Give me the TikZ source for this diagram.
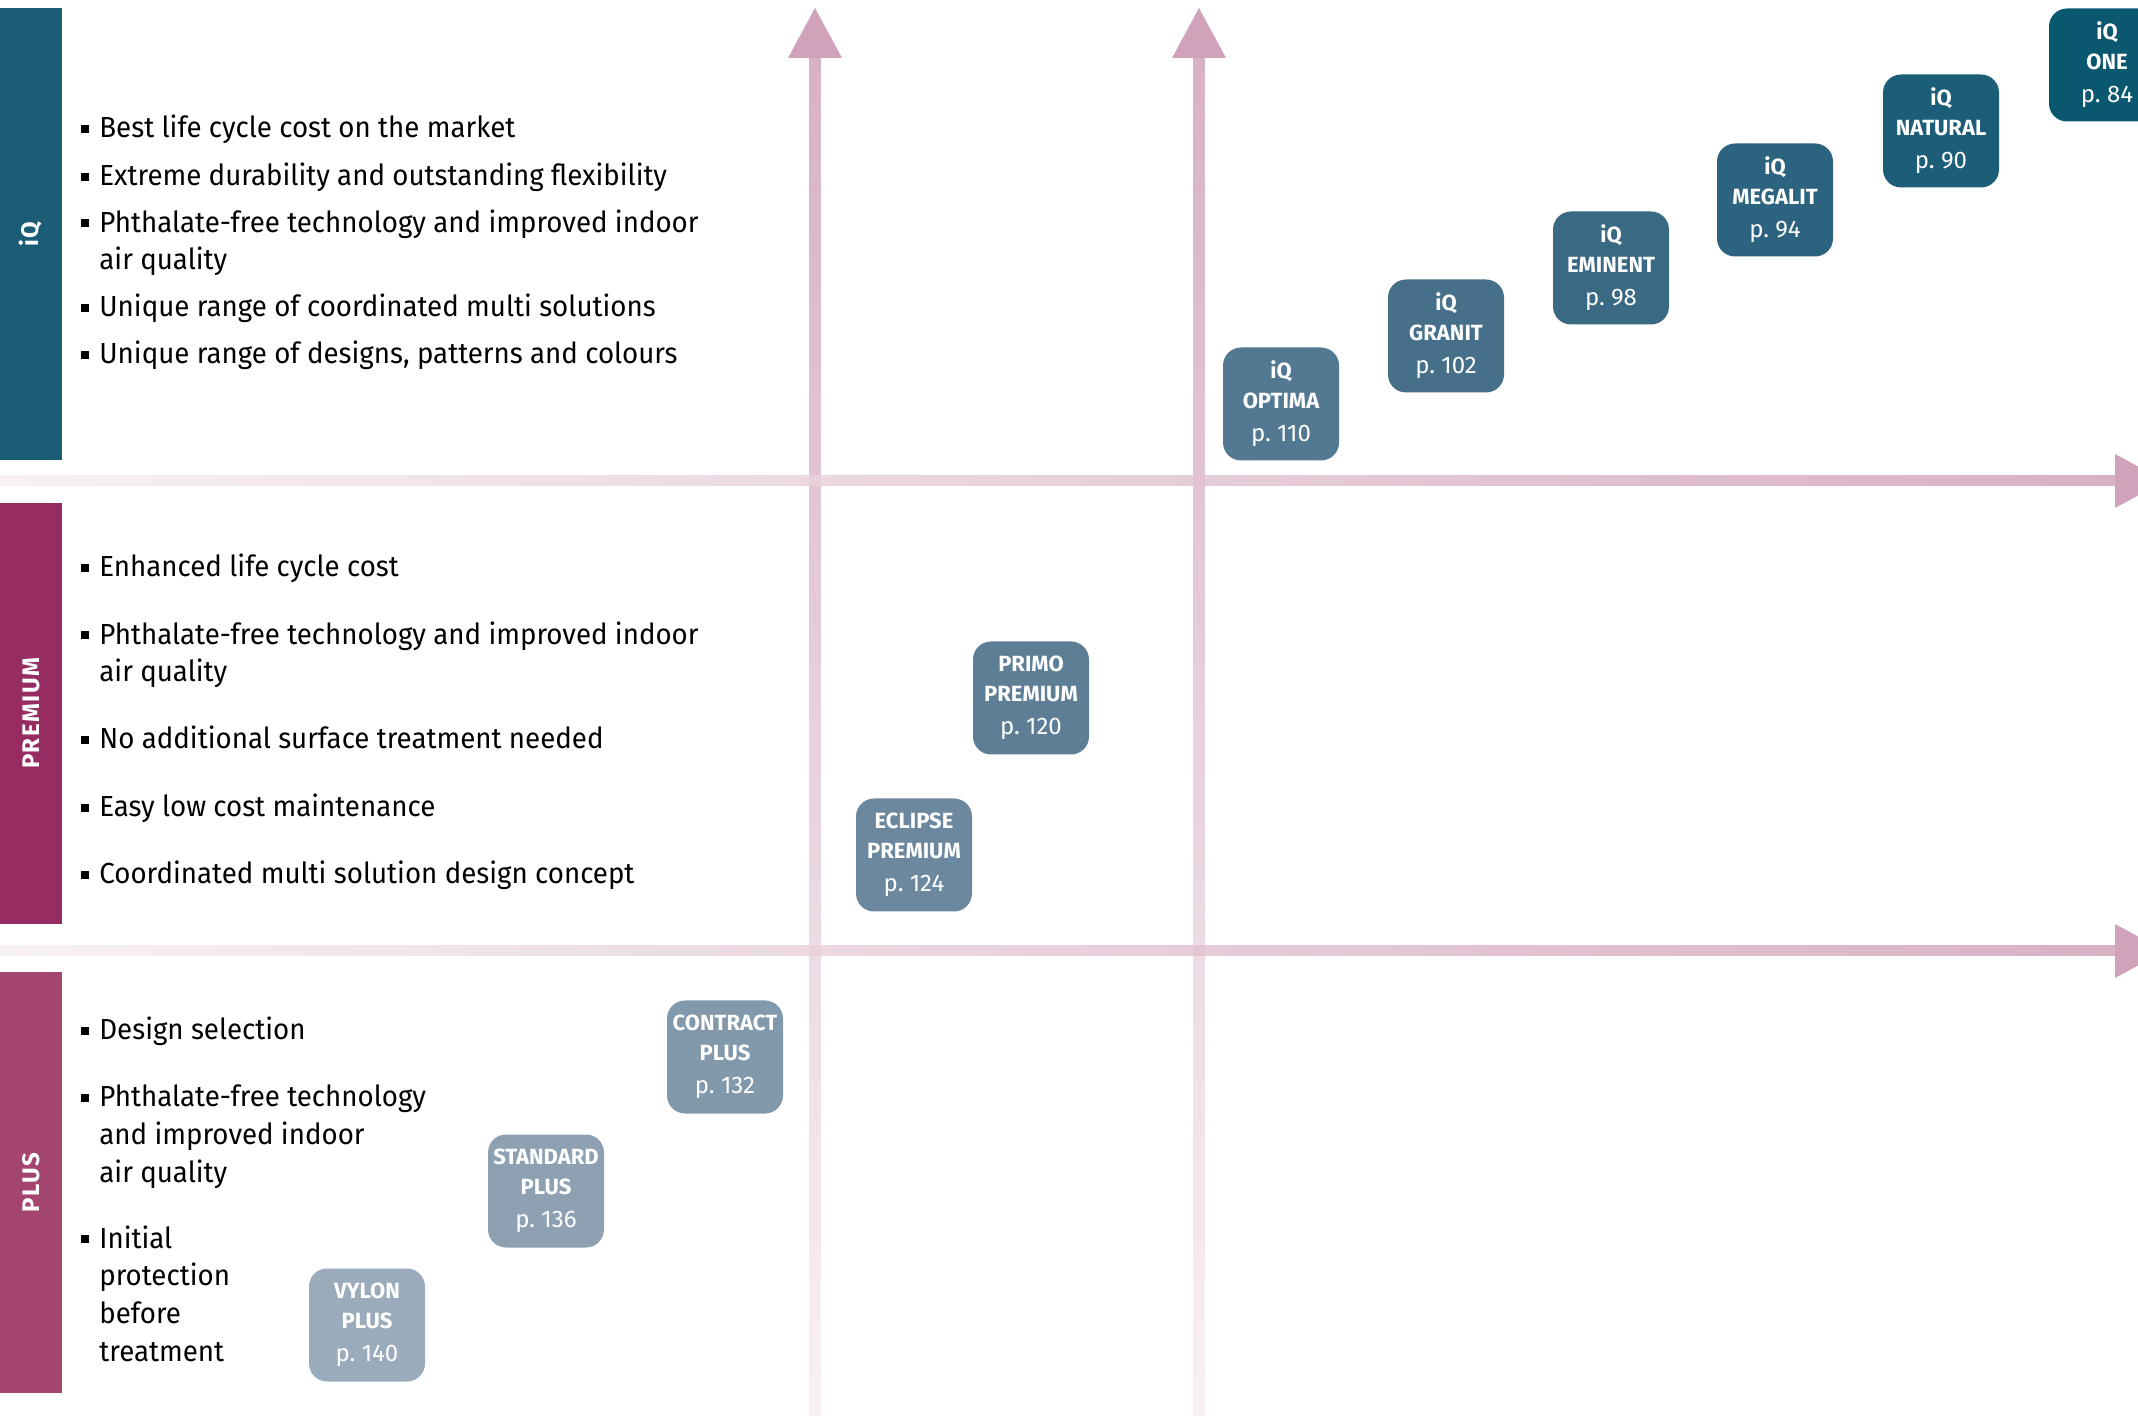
\documentclass[tikz,border=0pt]{standalone}
\usepackage{fontspec}
\setmainfont{Fira Sans}[FakeStretch=0.955]
\newfontfamily\boxfont{Fira Sans}
\newfontfamily\sidefont{Fira Sans}[LetterSpace=6]
\usetikzlibrary{positioning}

\definecolor{apink}{HTML}{D1A3BB}
\definecolor{apale}{HTML}{F7EEF2}
\definecolor{cIQ}{HTML}{1B5C77}
\definecolor{cPremium}{HTML}{962C62}
\definecolor{cPlus}{HTML}{A4456F}
\definecolor{cOne}{HTML}{0A5870}
\definecolor{cNatural}{HTML}{1C5E78}
\definecolor{cMegalit}{HTML}{2C6480}
\definecolor{cEminent}{HTML}{3A6983}
\definecolor{cGranit}{HTML}{466F89}
\definecolor{cOptima}{HTML}{537891}
\definecolor{cPrimo}{HTML}{5E7E95}
\definecolor{cEclipse}{HTML}{6B889E}
\definecolor{cContract}{HTML}{8298AB}
\definecolor{cStandard}{HTML}{8EA1B3}
\definecolor{cVylon}{HTML}{9AABBC}

\newcommand{\bul}{\llap{\rule[2.5pt]{4pt}{4pt}\hspace{5pt}}}
\newcommand{\pg}[1]{{\mdseries\fontsize{12}{15}\selectfont p.~#1}}

\begin{document}
\begin{tikzpicture}[
  x=0.5pt, y=-0.5pt,
  font=\fontsize{14.5}{18.8}\selectfont,
  bar/.style={minimum width=31pt, inner sep=0pt},
  sidelabel/.style={rotate=90, text=white, inner sep=0pt, font=\sidefont\bfseries\fontsize{12}{12}\selectfont},
  point/.style={anchor=base west, align=left, inner sep=0pt},
  prod/.style={rounded corners=9pt, minimum width=58pt, minimum height=56.5pt, inner sep=0pt,
               align=center, text=white, font=\boxfont\bfseries\fontsize{11}{15}\selectfont},
]
  \useasboundingbox (0,0) rectangle (2138,1416);
  \clip (0,0) rectangle (2138,1416);

  % axes
  \foreach \ax in {815,1199} {
    \shade[top color=apink, bottom color=apale, fill opacity=0.85] (\ax-5.5,58) rectangle (\ax+5.5,1416);
    \fill[apink] (\ax-27,58) -- (\ax,8) -- (\ax+27,58) -- cycle;
  }
  \foreach \ay in {481,951} {
    \shade[left color=apale, right color=apink, fill opacity=0.85] (0,\ay-5) rectangle (2115,\ay+5);
    \fill[apink] (2115,\ay-27) -- (2165,\ay) -- (2115,\ay+27) -- cycle;
  }

  % side bars
  \node[bar, fill=cIQ, minimum height=226pt] (iqbar) at (31,234) {};
  \node[bar, fill=cPremium, minimum height=210.5pt] (prembar) at (31,713.5) {};
  \node[bar, fill=cPlus, minimum height=210.5pt] (plusbar) at (31,1182.5) {};
  \node[sidelabel] at (iqbar) {iQ};
  \node[sidelabel] at (prembar) {PREMIUM};
  \node[sidelabel] at (plusbar) {PLUS};

  % iQ points (multi-line points sit on their last line)
  \node[point] (iq1) at (99,138) {\bul Best life cycle cost on the market};
  \node[point] (iq2) at (99,186) {\bul Extreme durability and outstanding flexibility};
  \node[point] (iq3) at (99,270) {\bul Phthalate-free technology and improved indoor\\air quality};
  \node[point] (iq4) at (99,317) {\bul Unique range of coordinated multi solutions};
  \node[point] (iq5) at (99,364) {\bul Unique range of designs, patterns and colours};

  % premium points
  \node[point] (pr1) at (99,577) {\bul Enhanced life cycle cost};
  \node[point] (pr2) at (99,682) {\bul Phthalate-free technology and improved indoor\\air quality};
  \node[point] (pr3) at (99,749) {\bul No additional surface treatment needed};
  \node[point] (pr4) at (99,817) {\bul Easy low cost maintenance};
  \node[point] (pr5) at (99,884) {\bul Coordinated multi solution design concept};

  % plus points
  \node[point] (pl1) at (99,1040) {\bul Design selection};
  \node[point] (pl2) at (99,1182) {\bul Phthalate-free technology\\and improved indoor\\air quality};
  \node[point] (pl3) at (99,1361) {\bul Initial\\protection\\before\\treatment};

  % products
  \node[prod, fill=cOne] (one) at (2107,65) {iQ\\ONE\\[1.5pt]\pg{84}};
  \node[prod, fill=cNatural] (natural) at (1941,131) {iQ\\NATURAL\\[1.5pt]\pg{90}};
  \node[prod, fill=cMegalit] (megalit) at (1775,200) {iQ\\MEGALIT\\[1.5pt]\pg{94}};
  \node[prod, fill=cEminent] (eminent) at (1611,268) {iQ\\EMINENT\\[1.5pt]\pg{98}};
  \node[prod, fill=cGranit] (granit) at (1446,336) {iQ\\GRANIT\\[1.5pt]\pg{102}};
  \node[prod, fill=cOptima] (optima) at (1281,404) {iQ\\OPTIMA\\[1.5pt]\pg{110}};
  \node[prod, fill=cPrimo] (primo) at (1031,698) {PRIMO\\PREMIUM\\[1.5pt]\pg{120}};
  \node[prod, fill=cEclipse] (eclipse) at (914,855) {ECLIPSE\\PREMIUM\\[1.5pt]\pg{124}};
  \node[prod, fill=cContract] (contract) at (725,1057) {CONTRACT\\PLUS\\[1.5pt]\pg{132}};
  \node[prod, fill=cStandard] (standard) at (546,1191) {STANDARD\\PLUS\\[1.5pt]\pg{136}};
  \node[prod, fill=cVylon] (vylon) at (367,1325) {VYLON\\PLUS\\[1.5pt]\pg{140}};
\end{tikzpicture}
\end{document}
